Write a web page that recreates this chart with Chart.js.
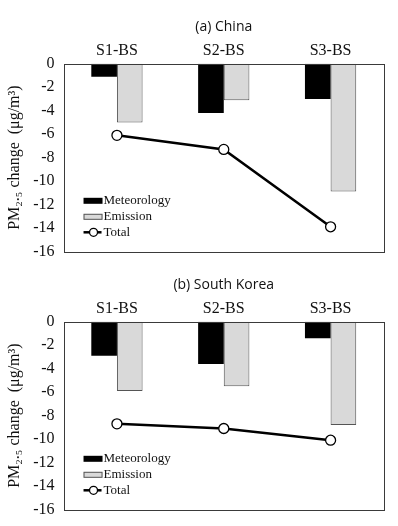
<!DOCTYPE html>
<html>
<head>
<meta charset="utf-8">
<script src="https://cdn.jsdelivr.net/npm/chart.js@4/dist/chart.umd.min.js"></script>
<style>
  html, body { margin: 0; padding: 0; background: #fff; }
  body { width: 398px; height: 526px; position: relative; overflow: hidden; }
  .panel { position: absolute; left: 0; width: 398px; height: 270px; }
</style>
</head>
<body>
<div class="panel" style="top:0px"><canvas id="chartA" width="398" height="270"></canvas></div>
<div class="panel" style="top:258px"><canvas id="chartB" width="398" height="270"></canvas></div>
<script>
// ---- data ----
const categories = ['S1-BS', 'S2-BS', 'S3-BS'];
const seriesNames = ['Meteorology', 'Emission', 'Total'];
const panelTitles = ['(a) China', '(b) South Korea'];
const chinaMeteorology = [-1.1, -4.2, -3.0];
const chinaEmission = [-5.0, -3.1, -10.9];
const chinaTotal = [-6.1, -7.3, -13.9];
const koreaMeteorology = [-2.9, -3.6, -1.4];
const koreaEmission = [-5.9, -5.5, -8.8];
const koreaTotal = [-8.7, -9.1, -10.1];
const yMin = -16, yMax = 0, yStep = 2;
const yAxisTitle = 'PM\u2082.\u2085 change  (\u03bcg/m\u00b3)';

// ---- plugins ----
const framePlugin = {
  id: 'frame',
  afterDraw(chart) {
    const {ctx, chartArea: a} = chart;
    ctx.save();
    ctx.strokeStyle = '#3a3a3a';
    ctx.lineWidth = 1;
    ctx.strokeRect(Math.round(a.left) + 0.5, Math.round(a.top) + 0.5,
      Math.round(a.right - a.left), Math.round(a.bottom - a.top));
    ctx.restore();
  }
};

const innerLegend = {
  id: 'innerLegend',
  afterDatasetsDraw(chart) {
    const {ctx, chartArea: a} = chart;
    const x0 = a.left + 20;
    const rows = [a.top + 137, a.top + 153, a.top + 168.5];
    ctx.save();
    ctx.font = '13px "Liberation Serif", "Times New Roman", serif';
    ctx.textBaseline = 'middle';
    ctx.textAlign = 'left';
    chart.data.datasets.forEach((ds, i) => {
      const y = rows[i];
      if (ds.type === 'line') {
        ctx.strokeStyle = ds.borderColor;
        ctx.lineWidth = 2.5;
        ctx.beginPath();
        ctx.moveTo(x0, y);
        ctx.lineTo(x0 + 18, y);
        ctx.stroke();
        ctx.beginPath();
        ctx.arc(x0 + 10, y, 4, 0, Math.PI * 2);
        ctx.fillStyle = '#fff';
        ctx.fill();
        ctx.lineWidth = 1.3;
        ctx.stroke();
      } else {
        ctx.fillStyle = ds.backgroundColor;
        ctx.fillRect(x0, y - 3, 19, 6);
        if (ds.borderWidth) {
          ctx.strokeStyle = ds.borderColor;
          ctx.lineWidth = 1;
          ctx.strokeRect(x0 + 0.5, y - 2.5, 18, 5);
        }
      }
      ctx.fillStyle = '#111';
      ctx.fillText(ds.label, x0 + 20, y);
    });
    ctx.restore();
  }
};

function makeChart(id, title, met, emi, tot) {
  return new Chart(document.getElementById(id), {
    data: {
      labels: categories,
      datasets: [
        { type: 'bar', label: seriesNames[0], data: met, backgroundColor: '#000000',
          borderColor: '#000000', borderWidth: 0, order: 2,
          categoryPercentage: 0.48, barPercentage: 1.0 },
        { type: 'bar', label: seriesNames[1], data: emi, backgroundColor: '#d9d9d9',
          borderColor: '#555555', borderWidth: 1, borderSkipped: false, order: 2,
          categoryPercentage: 0.48, barPercentage: 1.0 },
        { type: 'line', label: seriesNames[2], data: tot, borderColor: '#000000',
          borderWidth: 2.5, pointRadius: 5, pointBackgroundColor: '#ffffff',
          pointBorderColor: '#000000', pointBorderWidth: 1.3, fill: false, order: 0,
          tension: 0 }
      ]
    },
    options: {
      responsive: false,
      animation: false,
      devicePixelRatio: 1,
      layout: { padding: { left: 0, right: 14, top: 13, bottom: 0 } },
      plugins: { legend: { display: false }, tooltip: { enabled: false }, title: { display: false } },
      scales: {
        x: {
          position: 'top',
          offset: true,
          grid: { display: false, drawTicks: false },
          border: { display: false },
          ticks: { color: '#111', padding: 5,
            font: { family: '"Liberation Serif", "Times New Roman", serif', size: 16, lineHeight: 1.0 } },
          title: { display: true, text: title, color: '#111',
            font: { family: '"Open Sans", "Noto Sans", sans-serif', size: 14 },
            padding: { top: 6, bottom: 2 } }
        },
        y: {
          min: yMin, max: yMax,
          grid: { display: false, drawTicks: false },
          border: { display: false },
          ticks: { stepSize: yStep, autoSkip: false, color: '#111', padding: 9,
            font: { family: '"Liberation Serif", "Times New Roman", serif', size: 16 } },
          title: { display: true, text: yAxisTitle, color: '#111',
            font: { family: '"Liberation Serif", "Times New Roman", serif', size: 16 },
            padding: { top: 5, bottom: 0 } }
        }
      }
    },
    plugins: [framePlugin, innerLegend]
  });
}

makeChart('chartA', panelTitles[0], chinaMeteorology, chinaEmission, chinaTotal);
makeChart('chartB', panelTitles[1], koreaMeteorology, koreaEmission, koreaTotal);
</script>
</body>
</html>
